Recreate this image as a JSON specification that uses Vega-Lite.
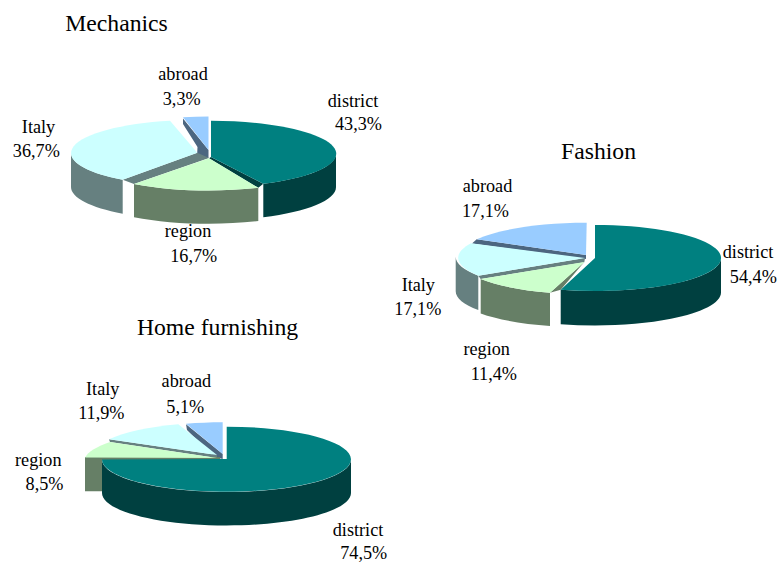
{
  "$schema": "https://vega.github.io/schema/vega-lite/v6.json",
  "padding": 0,
  "background": "white",
  "spacing": 450,
  "bounds": "flush",
  "datasets": {
    "shares": [
      {"chart": "Mechanics", "category": "abroad", "share": 0.033},
      {"chart": "Mechanics", "category": "district", "share": 0.433},
      {"chart": "Mechanics", "category": "Italy", "share": 0.367},
      {"chart": "Mechanics", "category": "region", "share": 0.167},
      {"chart": "Home furnishing", "category": "abroad", "share": 0.051},
      {"chart": "Home furnishing", "category": "Italy", "share": 0.119},
      {"chart": "Home furnishing", "category": "region", "share": 0.085},
      {"chart": "Home furnishing", "category": "district", "share": 0.745},
      {"chart": "Fashion", "category": "abroad", "share": 0.171},
      {"chart": "Fashion", "category": "Italy", "share": 0.171},
      {"chart": "Fashion", "category": "region", "share": 0.114},
      {"chart": "Fashion", "category": "district", "share": 0.544}
    ]
  },
  "data": {"name": "shares"},
  "hconcat": [
    {
      "vconcat": [
        {
          "width": 420,
          "height": 300,
          "transform": [{"filter": "datum.chart === 'Mechanics'"}],
          "resolve": {"scale": {"shape": "independent", "color": "independent"}},
          "layer": [
            {
              "mark": {"type": "point", "filled": true, "size": 4, "opacity": 1},
              "encoding": {
                "shape": {"field": "category", "type": "nominal", "legend": null, "scale": {
                  "domain": ["district", "region", "Italy", "abroad"],
                  "range": [
                    "M126 3.7A125 33 0 0 1 53.3 33.7L53.3 67.2A125 33 0 0 0 126 37.2ZM1 7L53.3 33.7L48.3 37.8L-1 8.3Z",
                    "M-76 33.9A125 33 0 0 0 48.3 37.8L48.3 71.1A125 33 0 0 1 -76 67.2Z",
                    "M-139 3A125 33 0 0 0 -87.3 29.7L-87.3 63.7A125 33 0 0 1 -139 37ZM-12.7 2.7L-87.3 29.7L-76 33.9L-1 8Z",
                    "M-27 -31.5L-1.5 0L-1.5 8L-13 7L-12.5 -3L-27 -26Z"
                  ]}},
                "color": {"field": "category", "type": "nominal", "legend": null, "scale": {
                  "domain": ["district", "region", "Italy", "abroad"],
                  "range": ["#004040", "#667F66", "#668080", "#4C6680"]}}
              }
            },
            {
              "mark": {"type": "point", "filled": true, "size": 4, "opacity": 1},
              "encoding": {
                "shape": {"field": "category", "type": "nominal", "legend": null, "scale": {
                  "domain": ["district", "region", "Italy", "abroad"],
                  "range": [
                    "M1 7L1 -29.3A125 33 0 0 1 53.3 33.7Z",
                    "M-1 8.3L48.3 37.8A125 33 0 0 1 -76 33.9Z",
                    "M-12.7 2.7L-87.3 29.7A125 33 0 0 1 -40 -29.3Z",
                    "M-1.5 0L-1.5 -33.5A125 33 0 0 0 -27 -32.8Z"
                  ]}},
                "color": {"field": "category", "type": "nominal", "legend": null, "scale": {
                  "domain": ["district", "region", "Italy", "abroad"],
                  "range": ["#008080", "#CCFFCC", "#CCFFFF", "#99CCFF"]}}
              }
            },
            {"transform": [{"filter": "datum.category === 'district'"}], "mark": {"type": "text", "fontSize": 23.7, "dx": -93.5, "dy": -119}, "encoding": {"text": {"field": "chart"}}},
            {"transform": [{"filter": "datum.category === 'abroad'"}], "mark": {"type": "text", "dx": -27, "dy": -70}, "encoding": {"text": {"field": "category"}}},
            {"transform": [{"filter": "datum.category === 'abroad'"}], "mark": {"type": "text", "dx": -28.3, "dy": -45}, "encoding": {"text": {"field": "share", "type": "quantitative", "format": ".1%"}}},
            {"transform": [{"filter": "datum.category === 'district'"}], "mark": {"type": "text", "dx": 143, "dy": -43.3}, "encoding": {"text": {"field": "category"}}},
            {"transform": [{"filter": "datum.category === 'district'"}], "mark": {"type": "text", "dx": 148.5, "dy": -20}, "encoding": {"text": {"field": "share", "type": "quantitative", "format": ".1%"}}},
            {"transform": [{"filter": "datum.category === 'Italy'"}], "mark": {"type": "text", "dx": -171.5, "dy": -17.3}, "encoding": {"text": {"field": "category"}}},
            {"transform": [{"filter": "datum.category === 'Italy'"}], "mark": {"type": "text", "dx": -173.7, "dy": 6.7}, "encoding": {"text": {"field": "share", "type": "quantitative", "format": ".1%"}}},
            {"transform": [{"filter": "datum.category === 'region'"}], "mark": {"type": "text", "dx": -22, "dy": 87.3}, "encoding": {"text": {"field": "category"}}},
            {"transform": [{"filter": "datum.category === 'region'"}], "mark": {"type": "text", "dx": -16.3, "dy": 111.7}, "encoding": {"text": {"field": "share", "type": "quantitative", "format": ".1%"}}}
          ]
        },
        {
          "width": 450,
          "height": 262,
          "transform": [{"filter": "datum.chart === 'Home furnishing'"}],
          "resolve": {"scale": {"shape": "independent", "color": "independent"}},
          "layer": [
            {
              "mark": {"type": "point", "filled": true, "size": 4, "opacity": 1},
              "encoding": {
                "shape": {"field": "category", "type": "nominal", "legend": null, "scale": {
                  "domain": ["district", "region", "Italy", "abroad"],
                  "range": [
                    "M126 28.5A124.5 32.5 0 0 1 -123 28.5L-123 62A124.5 32.5 0 0 0 126 62Z",
                    "M-140 26L-5 26L-5 29L-123 29L-123 60.3L-140 60.3Z",
                    "M-116 8.3L-8 24L-8 27L-115 11Z",
                    "M-39 -6.7L-2.3 23L-2.3 28L-11 26L-38 -1Z"
                  ]}},
                "color": {"field": "category", "type": "nominal", "legend": null, "scale": {
                  "domain": ["district", "region", "Italy", "abroad"],
                  "range": ["#004040", "#667F66", "#668080", "#4C6680"]}}
              }
            },
            {
              "mark": {"type": "point", "filled": true, "size": 4, "opacity": 1},
              "encoding": {
                "shape": {"field": "category", "type": "nominal", "legend": null, "scale": {
                  "domain": ["district", "region", "Italy", "abroad"],
                  "range": [
                    "M1.7 28L1.7 -4.3A124.5 32.5 0 1 1 -123 28.5Z",
                    "M-8 27L-115 11A125 33 0 0 0 -140 26.5Z",
                    "M-8 24L-116 8.3A125 33 0 0 1 -46.7 -6.7Z",
                    "M-2.3 23L-2.3 -8.7A125 33 0 0 0 -39 -7.2Z"
                  ]}},
                "color": {"field": "category", "type": "nominal", "legend": null, "scale": {
                  "domain": ["district", "region", "Italy", "abroad"],
                  "range": ["#008080", "#CCFFCC", "#CCFFFF", "#99CCFF"]}}
              }
            },
            {"transform": [{"filter": "datum.category === 'district'"}], "mark": {"type": "text", "fontSize": 23.7, "dx": -7.5, "dy": -96}, "encoding": {"text": {"field": "chart"}}},
            {"transform": [{"filter": "datum.category === 'abroad'"}], "mark": {"type": "text", "dx": -38.7, "dy": -44.3}, "encoding": {"text": {"field": "category"}}},
            {"transform": [{"filter": "datum.category === 'abroad'"}], "mark": {"type": "text", "dx": -39.7, "dy": -18.3}, "encoding": {"text": {"field": "share", "type": "quantitative", "format": ".1%"}}},
            {"transform": [{"filter": "datum.category === 'district'"}], "mark": {"type": "text", "dx": 133, "dy": 105}, "encoding": {"text": {"field": "category"}}},
            {"transform": [{"filter": "datum.category === 'district'"}], "mark": {"type": "text", "dx": 138.7, "dy": 128}, "encoding": {"text": {"field": "share", "type": "quantitative", "format": ".1%"}}},
            {"transform": [{"filter": "datum.category === 'Italy'"}], "mark": {"type": "text", "dx": -122.3, "dy": -36}, "encoding": {"text": {"field": "category"}}},
            {"transform": [{"filter": "datum.category === 'Italy'"}], "mark": {"type": "text", "dx": -123.7, "dy": -11.7}, "encoding": {"text": {"field": "share", "type": "quantitative", "format": ".1%"}}},
            {"transform": [{"filter": "datum.category === 'region'"}], "mark": {"type": "text", "dx": -186.7, "dy": 34.7}, "encoding": {"text": {"field": "category"}}},
            {"transform": [{"filter": "datum.category === 'region'"}], "mark": {"type": "text", "dx": -180.5, "dy": 59}, "encoding": {"text": {"field": "share", "type": "quantitative", "format": ".1%"}}}
          ]
        }
      ],
      "spacing": 0,
      "bounds": "flush"
    },
    {
      "width": 329,
      "height": 562,
      "transform": [{"filter": "datum.chart === 'Fashion'"}],
      "resolve": {"scale": {"shape": "independent", "color": "independent"}},
      "layer": [
        {
          "mark": {"type": "point", "filled": true, "size": 4, "opacity": 1},
          "encoding": {
            "shape": {"field": "category", "type": "nominal", "legend": null, "scale": {
              "domain": ["district", "region", "Italy", "abroad"],
              "range": [
                "M106.5 -23A126 33 0 0 1 -53.8 8.75L-53.8 43.25A126 33 0 0 0 106.5 11.5Z",
                "M-133.8 -2A126 33 0 0 0 -64.5 11.7L-64.5 45A126 33 0 0 1 -133.8 32.5ZM-30.2 -19L-64.5 11.7L-53.8 8.75Z",
                "M-158.8 -24.3A126 33 0 0 0 -136.2 -5.3L-136.2 29A126 33 0 0 1 -158.8 10ZM-136.2 -5.3L-29.5 -23L-30.2 -18.7L-133.8 -2Z",
                "M-137.8 -41.7L-28.5 -26L-28.5 -22L-142.5 -37.5Z"
              ]}},
            "color": {"field": "category", "type": "nominal", "legend": null, "scale": {
              "domain": ["district", "region", "Italy", "abroad"],
              "range": ["#004040", "#667F66", "#668080", "#4C6680"]}}
          }
        },
        {
          "mark": {"type": "point", "filled": true, "size": 4, "opacity": 1},
          "encoding": {
            "shape": {"field": "category", "type": "nominal", "legend": null, "scale": {
              "domain": ["district", "region", "Italy", "abroad"],
              "range": [
                "M-19.5 -23L-19.5 -56A126 33 0 1 1 -53.8 8.75Z",
                "M-30.2 -19L-64.5 11.7A126 33 0 0 1 -133.8 -2Z",
                "M-29.5 -23L-136.2 -5.3A126 33 0 0 1 -143.5 -37.7Z",
                "M-28.5 -26L-27.8 -58.3A126 33 0 0 0 -137.8 -41.7Z"
              ]}},
            "color": {"field": "category", "type": "nominal", "legend": null, "scale": {
              "domain": ["district", "region", "Italy", "abroad"],
              "range": ["#008080", "#CCFFCC", "#CCFFFF", "#99CCFF"]}}
          }
        },
        {"transform": [{"filter": "datum.category === 'district'"}], "mark": {"type": "text", "fontSize": 23.7, "dx": -16, "dy": -121.7}, "encoding": {"text": {"field": "chart"}}},
        {"transform": [{"filter": "datum.category === 'abroad'"}], "mark": {"type": "text", "dx": -127, "dy": -89.3}, "encoding": {"text": {"field": "category"}}},
        {"transform": [{"filter": "datum.category === 'abroad'"}], "mark": {"type": "text", "dx": -129, "dy": -64.3}, "encoding": {"text": {"field": "share", "type": "quantitative", "format": ".1%"}}},
        {"transform": [{"filter": "datum.category === 'district'"}], "mark": {"type": "text", "dx": 133.5, "dy": -22.7}, "encoding": {"text": {"field": "category"}}},
        {"transform": [{"filter": "datum.category === 'district'"}], "mark": {"type": "text", "dx": 138.8, "dy": 2.3}, "encoding": {"text": {"field": "share", "type": "quantitative", "format": ".1%"}}},
        {"transform": [{"filter": "datum.category === 'Italy'"}], "mark": {"type": "text", "dx": -196.2, "dy": 9.7}, "encoding": {"text": {"field": "category"}}},
        {"transform": [{"filter": "datum.category === 'Italy'"}], "mark": {"type": "text", "dx": -196.7, "dy": 34}, "encoding": {"text": {"field": "share", "type": "quantitative", "format": ".1%"}}},
        {"transform": [{"filter": "datum.category === 'region'"}], "mark": {"type": "text", "dx": -127.8, "dy": 74}, "encoding": {"text": {"field": "category"}}},
        {"transform": [{"filter": "datum.category === 'region'"}], "mark": {"type": "text", "dx": -120.7, "dy": 99}, "encoding": {"text": {"field": "share", "type": "quantitative", "format": ".1%"}}}
      ]
    }
  ],
  "config": {
    "view": {"stroke": null},
    "locale": {"number": {"decimal": ",", "thousands": ".", "grouping": [3], "currency": ["", ""]}},
    "text": {"font": "Liberation Serif", "fontSize": 18.2, "color": "#000000", "align": "center", "baseline": "alphabetic"}
  }
}
